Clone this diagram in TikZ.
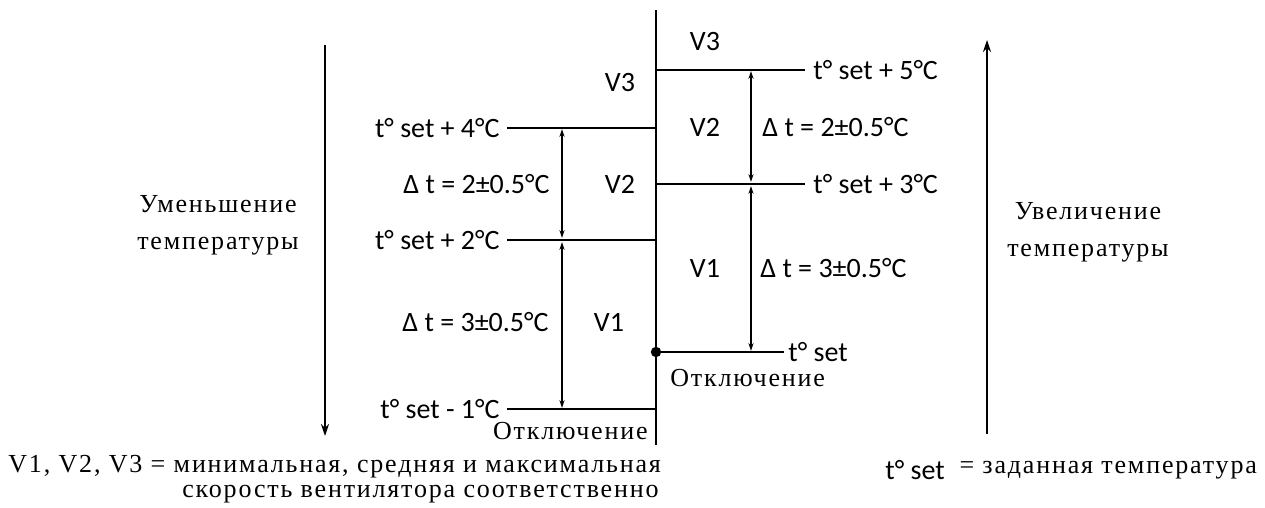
\documentclass[tikz,border=0pt]{standalone}
\usepackage{fontspec}
\setmainfont{Carlito}
\newfontfamily\cyrfont[LetterSpace=7]{Liberation Serif}
\usetikzlibrary{arrows.meta,positioning}

\begin{document}
\begin{tikzpicture}[x=0.5pt,y=-0.5pt,
  lbl/.style={inner sep=0pt, font=\fontsize{14}{16}\selectfont},
  note/.style={inner sep=0pt, align=center, font=\cyrfont\fontsize{13}{18.5}\selectfont},
  level/.style={line width=1pt},
  dim/.style={line width=0.7pt, {Stealth[length=4pt,width=2.6pt]}-{Stealth[length=4pt,width=2.6pt]}},
  trend/.style={line width=0.8pt, -{Stealth[length=6pt,width=4pt]}}]
  \useasboundingbox (0,0) rectangle (1265,508);

  % Main axis
  \coordinate (top) at (656,10);
  \coordinate (bot) at (656,445);
  \draw[level] (top) -- (bot);

  % Left side: switching points when temperature falls
  \coordinate (a4) at (656,128);  \coordinate (l4) at (507,128);
  \coordinate (a2) at (656,240);  \coordinate (l2) at (507,240);
  \coordinate (am1) at (656,409); \coordinate (lm1) at (507,409);
  \draw[level] (a4) -- (l4);
  \draw[level] (a2) -- (l2);
  \draw[level] (am1) -- (lm1);
  \node[lbl, left=3.5pt of l4] (t4) {t° set + 4°C};
  \node[lbl, left=3.5pt of l2] (t2) {t° set + 2°C};
  \node[lbl, left=3.5pt of lm1] (tm1) {t° set - 1°C};

  % Left dimension arrows
  \coordinate (d4) at (562,129);
  \coordinate (d2) at (562,240);
  \coordinate (dm1) at (562,408);
  \draw[dim] (d4) -- ([yshift=1pt]d2);
  \draw[dim] ([yshift=-1pt]d2) -- (dm1);
  \node[lbl, anchor=east] (dt2l) at (550,184) {Δ t = 2±0.5°C};
  \node[lbl, anchor=east] (dt3l) at (549,322) {Δ t = 3±0.5°C};

  % Left speed labels
  \node[lbl] (v3l) at (620,83) {V3};
  \node[lbl] (v2l) at (620,184) {V2};
  \node[lbl] (v1l) at (609,322) {V1};
  \node[note, anchor=east] (offl) at (648,431) {Отключение};

  % Right side: switching points when temperature rises
  \coordinate (b5) at (656,70);   \coordinate (r5) at (805,70);
  \coordinate (b3) at (656,184);  \coordinate (r3) at (805,184);
  \coordinate (b0) at (656,352);  \coordinate (r0) at (784,352);
  \draw[level] (b5) -- (r5);
  \draw[level] (b3) -- (r3);
  \draw[level] (b0) -- (r0);
  \fill (b0) circle (2.6pt);
  \node[lbl, right=4pt of r5] (t5) {t° set + 5°C};
  \node[lbl, right=4pt of r3] (t3) {t° set + 3°C};
  \node[lbl, right=2pt of r0] (t0) {t° set};

  % Right dimension arrows
  \coordinate (e5) at (751,71);
  \coordinate (e3) at (751,184);
  \coordinate (e0) at (751,351);
  \draw[dim] (e5) -- ([yshift=1pt]e3);
  \draw[dim] ([yshift=-1pt]e3) -- (e0);
  \node[lbl, anchor=west] (dt2r) at (762,127) {Δ t = 2±0.5°C};
  \node[lbl, anchor=west] (dt3r) at (760,268) {Δ t = 3±0.5°C};

  % Right speed labels
  \node[lbl] (v3r) at (705,42) {V3};
  \node[lbl] (v2r) at (705,127) {V2};
  \node[lbl] (v1r) at (705,268) {V1};
  \node[note, anchor=west] (offr) at (670,378) {Отключение};

  % Trend arrows
  \coordinate (decs) at (325,45);  \coordinate (dece) at (325,436);
  \coordinate (incs) at (987,434); \coordinate (ince) at (987,40);
  \draw[trend] (decs) -- (dece);
  \draw[trend] (incs) -- (ince);
  \node[note] (dec) at (218,225) {Уменьшение\\температуры};
  \node[note] (inc) at (1088,232) {Увеличение\\температуры};

  % Legend
  \node[note, anchor=west] (leg1) at (8,467) {V1, V2, V3 = минимальная, средняя и максимальная};
  \node[note, anchor=west] (leg2) at (182,494) {скорость вентилятора соответственно};
  \node[lbl, anchor=west] (leg3) at (885,470) {t° set};
  \node[note, right=7pt of leg3] (leg4) {= заданная температура};
\end{tikzpicture}
\end{document}
